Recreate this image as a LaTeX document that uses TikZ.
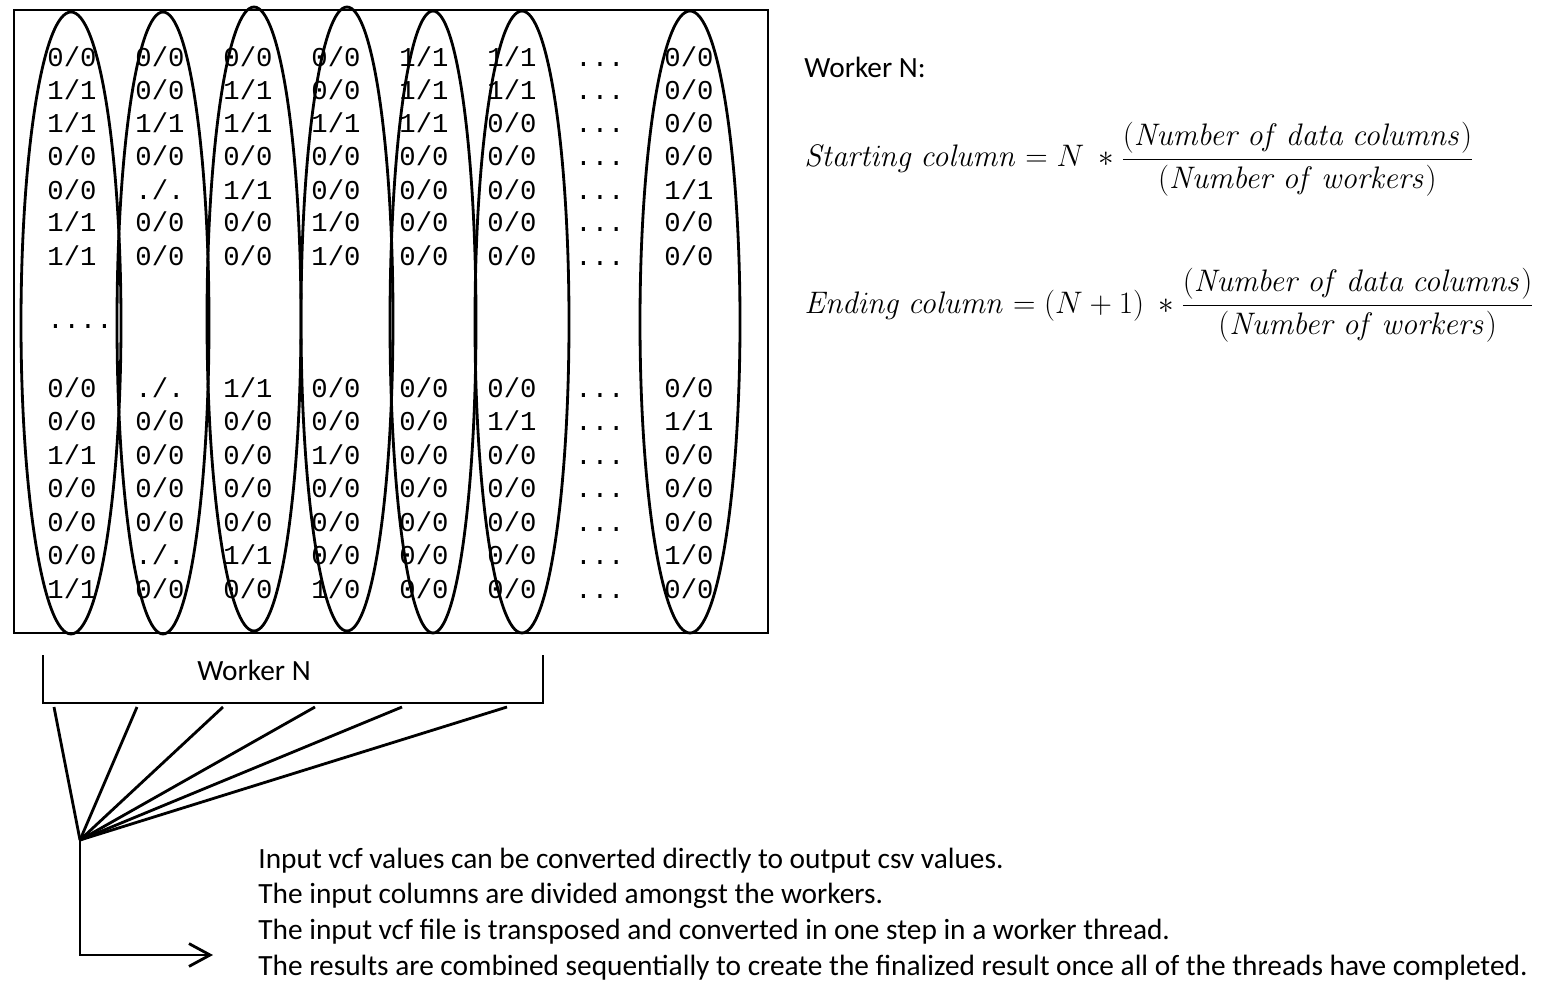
\documentclass[tikz,border=0pt]{standalone}
\usepackage[no-math]{fontspec}
\usepackage{amsmath}
\setmainfont{Carlito}
\setmonofont{Liberation Mono}
\usetikzlibrary{arrows.meta, positioning}

\tikzset{
    gt/.style={font=\fontsize{15.5}{15.5}\selectfont\ttfamily, inner sep=0pt, anchor=base},
    note/.style={font=\fontsize{16.7}{20}\selectfont, inner sep=0pt, anchor=base west},
    formula/.style={font=\fontsize{17.28}{21}\selectfont, inner sep=0pt, anchor=base west}
}

\begin{document}
\begin{tikzpicture}[x=0.02cm, y=-0.02cm, line width=1.6pt]

    \useasboundingbox (0,0) rectangle (1554,1000);

    % 1. Bảng dữ liệu vcf
    \draw (14,10) rectangle (768,633);

    \foreach \row [count=\r] in {
        {0/0,0/0,0/0,0/0,1/1,1/1,0/0},
        {1/1,0/0,1/1,0/0,1/1,1/1,0/0},
        {1/1,1/1,1/1,1/1,1/1,0/0,0/0},
        {0/0,0/0,0/0,0/0,0/0,0/0,0/0},
        {0/0,./.,1/1,0/0,0/0,0/0,1/1},
        {1/1,0/0,0/0,1/0,0/0,0/0,0/0},
        {1/1,0/0,0/0,1/0,0/0,0/0,0/0},
        {0/0,./.,1/1,0/0,0/0,0/0,0/0},
        {0/0,0/0,0/0,0/0,0/0,1/1,1/1},
        {1/1,0/0,0/0,1/0,0/0,0/0,0/0},
        {0/0,0/0,0/0,0/0,0/0,0/0,0/0},
        {0/0,0/0,0/0,0/0,0/0,0/0,0/0},
        {0/0,./.,1/1,0/0,0/0,0/0,1/0},
        {1/1,0/0,0/0,1/0,0/0,0/0,0/0}}{
        \pgfmathsetmacro\ry{\r<8 ? 67+33*(\r-1) : 397+33.5*(\r-8)}
        \foreach \v [count=\c] in \row {
            \pgfmathsetmacro\cx{\c<7 ? 72+88*(\c-1) : 689}
            \node[gt] (cell-\r-\c) at (\cx,\ry) {\v};
        }
        \node[gt] (dots-\r) at (600,\ry) {...};
    }

    \node[gt] (gap) at (80,328) {....};

    % 2. Các cột được khoanh
    \foreach \ex/\ey/\wx/\wy in {71/323/50/311, 163/323/46/311,
        254/319/47/312, 347/319/46/312, 433/322/43/311,
        522/322/47/311, 690/322/50/311}
        \draw (\ex,\ey) ellipse [x radius=\wx*0.02cm, y radius=\wy*0.02cm];

    % 3. Ngoặc Worker N
    \draw (43,655) |- (543,703) -- (543,655);
    \node[note, anchor=base] (wlabel) at (254,680) {Worker N};

    % 4. Các đường gom về một điểm
    \coordinate (hub) at (80,840);
    \foreach \bx [count=\i] in {54,137,223,315,402,507}
        \coordinate (b\i) at (\bx,707);
    \foreach \i in {1,...,6}
        \draw (b\i) -- (hub);

    \coordinate (tip) at (213,955);
    \draw[-{Straight Barb[length=12pt, width=13pt]}] (hub) |- (tip);

    % 5. Công thức
    \node[note] (wn) at (803,78) {Worker N:};

    \node[formula] (start) at (803,167)
        {\scalebox{1.025}{$\mathit{Starting\ column} = N\ * \dfrac{(\mathit{Number\ of\ data\ columns})}{(\mathit{Number\ of\ workers})}$}};

    \node[formula] (end) at (803,313)
        {\scalebox{1.025}{$\mathit{Ending\ column} = (N+1)\ * \dfrac{(\mathit{Number\ of\ data\ columns})}{(\mathit{Number\ of\ workers})}$}};

    % 6. Ghi chú
    \foreach \t [count=\i] in {
        Input vcf values can be converted directly to output csv values.,
        The input columns are divided amongst the workers.,
        The input vcf file is transposed and converted in one step in a worker thread.,
        The results are combined sequentially to create the finalized result once all of the threads have completed.
    }
        \node[note] (line\i) at (257,{868+35.7*(\i-1)}) {\t};

\end{tikzpicture}
\end{document}
